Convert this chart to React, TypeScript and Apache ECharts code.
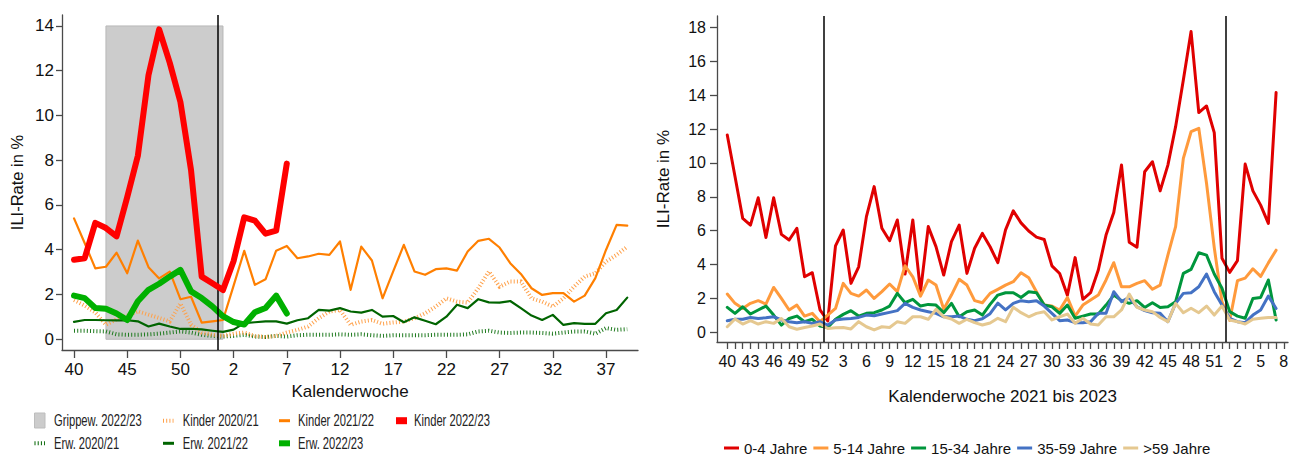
import React, { useEffect, useRef } from "react";
import * as echarts from "echarts";

// ---------- Left chart data (season weeks 40..53, 1..39) ----------
const leftWeeks = [40, 41, 42, 43, 44, 45, 46, 47, 48, 49, 50, 51, 52, 53,
  1, 2, 3, 4, 5, 6, 7, 8, 9, 10, 11, 12, 13, 14, 15, 16, 17, 18, 19, 20,
  21, 22, 23, 24, 25, 26, 27, 28, 29, 30, 31, 32, 33, 34, 35, 36, 37, 38, 39];

const kinder2021 = [1.75, 1.5, 1.2, 0.65, 0.9, 1.05, 1.25, 1.1, 0.95, 0.8,
  1.6, 0.65, 0.3, 0.2, 0.15, 0.25, 0.3, 0.15, 0.1, 0.15,
  0.3, 0.42, 0.57, 0.94, 1.24, 1.31, 0.64, 0.79, 0.86, 0.69,
  0.75, 0.79, 0.94, 1.16, 1.46, 1.83, 1.68, 1.64, 2.28, 3.03,
  2.35, 2.58, 2.58, 1.83, 1.68, 1.46, 1.83, 2.35, 2.8, 2.95,
  3.47, 3.77, 4.14];
const erw2021 = [0.38, 0.38, 0.36, 0.35, 0.22, 0.2, 0.2, 0.22, 0.25, 0.3,
  0.35, 0.3, 0.2, 0.15, 0.12, 0.15, 0.2, 0.12, 0.1, 0.15,
  0.12, 0.18, 0.2, 0.2, 0.2, 0.22, 0.2, 0.22, 0.18, 0.15,
  0.18, 0.18, 0.18, 0.18, 0.2, 0.2, 0.2, 0.22, 0.35, 0.38,
  0.3, 0.28, 0.3, 0.3, 0.28, 0.25, 0.3, 0.35, 0.35, 0.25,
  0.5, 0.42, 0.45];
const kinder2122 = [5.4, 4.3, 3.17, 3.24, 3.87, 2.95, 4.41, 3.22, 2.72, 3.02,
  1.79, 1.9, 0.74, 0.8, 0.86, 2.4, 3.95, 2.43, 2.68, 3.96,
  4.17, 3.62, 3.7, 3.82, 3.77, 4.37, 2.21, 4.14, 3.52, 1.83,
  3.03, 4.22, 3.03, 2.88, 3.13, 3.17, 3.07, 3.92, 4.4, 4.49,
  4.1, 3.4, 2.92, 2.28, 1.98, 2.06, 2.06, 1.68, 1.95, 2.73,
  3.99, 5.11, 5.08];
const erw2122 = [0.78, 0.86, 0.86, 0.85, 0.84, 0.85, 0.8, 0.57, 0.7, 0.57,
  0.46, 0.47, 0.44, 0.38, 0.33, 0.43, 0.72, 0.76, 0.8, 0.8,
  0.7, 0.85, 0.94, 1.31, 1.28, 1.39, 1.24, 1.19, 1.31, 1.01,
  1.04, 0.76, 0.98, 0.83, 0.67, 1.01, 1.54, 1.39, 1.79, 1.65,
  1.64, 1.71, 1.39, 1.06, 0.86, 1.09, 0.64, 0.72, 0.69, 0.69,
  1.16, 1.31, 1.86];
const kinder2223 = [3.55, 3.62, 5.2, 4.97, 4.6, 6.35, 8.2, 11.8, 13.85, 12.35,
  10.6, 7.55, 2.8, 2.5, 2.2, 3.5, 5.45, 5.3, 4.72, 4.85, 7.85];
const erw2223 = [1.95, 1.84, 1.4, 1.36, 1.15, 0.86, 1.7, 2.21, 2.48, 2.8,
  3.1, 2.14, 1.84, 1.47, 1.03, 0.77, 0.66, 1.21, 1.4, 1.95, 1.15];

const grippeStartWeek = 43;
const grippeEndWeek = 1;
const grippeTop = 14;
const leftYTicks = [0, 2, 4, 6, 8, 10, 12, 14];

// ---------- Right chart data (week 40/2021 .. week 8/2023) ----------
const rightWeeks = [40, 41, 42, 43, 44, 45, 46, 47, 48, 49, 50, 51, 52,
  1, 2, 3, 4, 5, 6, 7, 8, 9, 10, 11, 12, 13, 14, 15, 16, 17, 18, 19, 20,
  21, 22, 23, 24, 25, 26, 27, 28, 29, 30, 31, 32, 33, 34, 35, 36, 37, 38, 39, 40,
  41, 42, 43, 44, 45, 46, 47, 48, 49, 50, 51, 52,
  1, 2, 3, 4, 5, 6, 7, 8];

const age0_4 = [11.65, 9.2, 6.72, 6.33, 7.94, 5.6, 7.94, 5.78, 5.45, 6.14,
  3.28, 3.52, 1.32, 0.67, 5.1, 6.04, 2.89, 3.87, 6.83, 8.6,
  6.14, 5.41, 6.63, 3.44, 6.63, 2.4, 6.24, 5.06, 3.38, 5.35,
  6.33, 3.48, 4.96, 5.84, 5.05, 4.11, 6.05, 7.17, 6.46, 5.98,
  5.62, 5.48, 3.92, 3.47, 2.19, 4.41, 1.95, 2.34, 3.68, 5.74,
  7.07, 9.88, 5.32, 5.02, 9.48, 10.07, 8.35, 9.87, 12.14, 14.89,
  17.75, 12.97, 13.36, 11.79, 4.37, 3.54, 4.23, 9.93, 8.35, 7.51,
  6.43, 14.15];
const age5_14 = [2.26, 1.71, 1.41, 1.71, 1.87, 1.67, 2.65, 2.0, 1.32, 1.61,
  0.96, 1.12, 0.63, 1.02, 1.41, 2.89, 2.3, 2.14, 2.5, 2.0,
  2.4, 2.85, 2.4, 3.93, 3.28, 2.14, 3.09, 2.79, 1.37, 2.2,
  3.13, 2.79, 1.87, 1.75, 2.3, 2.54, 2.79, 2.99, 3.52, 3.22,
  2.4, 1.61, 1.55, 1.32, 2.06, 0.96, 1.61, 1.91, 2.2, 3.09,
  4.11, 2.69, 2.69, 2.89, 3.05, 2.54, 2.79, 4.56, 6.24, 10.27,
  11.84, 12.04, 8.8, 5.0, 1.8, 0.7, 3.05, 3.2, 3.75, 3.3,
  4.1, 4.85];
const age15_34 = [1.47, 1.12, 1.51, 1.08, 1.32, 1.55, 1.02, 0.43, 0.82, 0.96,
  0.63, 0.77, 0.37, 0.29, 0.77, 1.06, 1.28, 0.96, 1.12, 1.16,
  1.32, 1.55, 2.3, 1.75, 1.95, 1.55, 1.65, 1.61, 1.16, 1.71,
  0.92, 1.22, 1.32, 1.02, 1.65, 2.2, 2.34, 2.34, 2.06, 2.4,
  2.34, 1.61, 1.51, 1.12, 1.61, 0.83, 0.96, 1.08, 1.08, 1.61,
  2.2, 1.87, 1.71, 1.87, 1.47, 1.75, 1.47, 1.51, 1.81, 3.48,
  3.72, 4.7, 4.56, 3.44, 2.6, 1.22, 0.96, 0.83, 2.0, 2.06,
  3.09, 0.73];
const age35_59 = [0.69, 0.77, 0.77, 0.88, 0.82, 0.86, 0.92, 0.73, 0.63, 0.57,
  0.63, 0.53, 0.63, 0.43, 0.73, 0.79, 0.82, 0.88, 1.02, 0.98,
  1.08, 1.18, 1.28, 1.71, 1.47, 1.32, 1.22, 1.12, 0.92, 0.92,
  0.96, 0.77, 0.69, 0.8, 1.1, 1.72, 1.32, 1.71, 1.87, 1.81,
  1.87, 1.55, 1.12, 0.69, 0.73, 0.57, 0.57, 0.63, 1.12, 1.12,
  2.4, 1.81, 2.06, 1.51, 1.28, 1.16, 1.12, 0.63, 1.71, 2.3,
  2.34, 2.69, 3.44, 2.4, 1.61, 0.83, 0.63, 0.57, 1.02, 1.32,
  2.14, 1.41];
const age59plus = [0.33, 0.79, 0.49, 0.69, 0.49, 0.63, 0.53, 0.82, 0.33, 0.18,
  0.29, 0.37, 0.49, 0.23, 0.27, 0.29, 0.2, 0.63, 0.33, 0.14,
  0.33, 0.29, 0.63, 0.53, 0.92, 0.92, 0.77, 1.36, 0.92, 0.79,
  0.53, 0.77, 0.57, 0.43, 0.55, 0.83, 0.63, 1.48, 1.16, 0.92,
  1.12, 1.22, 0.73, 0.92, 1.08, 0.53, 0.83, 0.49, 0.43, 0.92,
  0.92, 1.32, 2.26, 1.48, 1.32, 1.22, 0.88, 0.63, 1.71, 1.16,
  1.42, 1.16, 1.55, 1.02, 1.55, 0.73, 0.63, 0.49, 0.77, 0.83,
  0.88, 0.87];
const rightYTicks = [0, 2, 4, 6, 8, 10, 12, 14, 16, 18];

const FONT = "'Liberation Sans', Arial, sans-serif";
const AXIS = { color: "#4a4a4a", width: 1.3 };
const TXT = "#111111";

const C = {
  grippe: "#cccccc",
  kinder2021: "#ffa14a",
  erw2021: "#1f7a1f",
  kinder2122: "#ff7f00",
  erw2122: "#006400",
  kinder2223: "#ff0000",
  erw2223: "#00b000",
};

const pairs = (vals: number[]) => vals.map((v, i) => [i, v]);

export default function App() {
  const ref = useRef<HTMLDivElement>(null);

  useEffect(() => {
    document.body.style.margin = "0";
    if (!ref.current) return;
    const chart = echarts.init(ref.current, null, { renderer: "svg" });

    const leftTickIdx = leftWeeks.map((_, i) => i).filter((i) => i % 5 === 0);
    const rightTickIdx = rightWeeks.map((_, i) => i).filter((i) => i % 3 === 0);
    const rightMinorIdx = rightWeeks.map((_, i) => i);
    const leftBreak = leftWeeks.indexOf(1) - 0.5;
    const rightBreak1 = rightWeeks.indexOf(1) - 0.5;
    const rightBreak2 = rightWeeks.lastIndexOf(1) - 0.5;

    const lineS = (name: string, data: number[], color: string, width: number, xi: number, z: number, extra: any = {}) => ({
      name,
      type: "line",
      xAxisIndex: xi,
      yAxisIndex: xi,
      data: pairs(data),
      showSymbol: false,
      symbol: "none",
      color,
      z,
      lineStyle: { color, width, join: "round", cap: "round", ...extra },
      emphasis: { disabled: true },
    });

    const dotted = { type: [1, 2.2], cap: "butt", join: "miter" };

    // Left legend drawn as graphic elements (two rows)
    const legText = (text: string, x: number, y: number) => ({
      type: "text",
      x,
      y,
      scaleX: 0.7,
      silent: true,
      style: {
        text,
        fontFamily: FONT,
        fontSize: 16,
        fill: "#222222",
        textVerticalAlign: "middle",
        verticalAlign: "middle",
        align: "left",
      },
    });
    const r1 = 420.7;
    const r2 = 443.3;
    const leftLegend = [
      { type: "rect", silent: true, shape: { x: 34.5, y: 413, width: 10.5, height: 15 }, style: { fill: C.grippe, stroke: "#bdbdbd", lineWidth: 1 } },
      legText("Grippew. 2022/23", 54, r1),
      { type: "line", silent: true, shape: { x1: 163, y1: r1, x2: 173.5, y2: r1 }, style: { stroke: C.kinder2021, lineWidth: 4, lineDash: [1, 2.2] } },
      legText("Kinder 2020/21", 182.7, r1),
      { type: "rect", silent: true, shape: { x: 279, y: r1 - 1.5, width: 11, height: 3 }, style: { fill: C.kinder2122 } },
      legText("Kinder 2021/22", 298, r1),
      { type: "rect", silent: true, shape: { x: 396, y: r1 - 3.5, width: 11, height: 7 }, style: { fill: C.kinder2223 } },
      legText("Kinder 2022/23", 414, r1),
      { type: "line", silent: true, shape: { x1: 34.5, y1: r2, x2: 45, y2: r2 }, style: { stroke: C.erw2122, lineWidth: 4, lineDash: [1, 2.2] } },
      legText("Erw. 2020/21", 54, r2),
      { type: "rect", silent: true, shape: { x: 163, y: r2 - 1.5, width: 11, height: 3 }, style: { fill: C.erw2122 } },
      legText("Erw. 2021/22", 182.7, r2),
      { type: "rect", silent: true, shape: { x: 279, y: r2 - 3, width: 11, height: 6 }, style: { fill: C.erw2223 } },
      legText("Erw. 2022/23", 298, r2),
    ];

    const option: any = {
      animation: false,
      backgroundColor: "#ffffff",
      grid: [
        { left: 62, top: 15, width: 576, height: 335 },
        { left: 717, top: 16, width: 571, height: 326 },
      ],
      graphic: leftLegend,
      xAxis: [
        {
          type: "value",
          gridIndex: 0,
          min: -1.13,
          max: 53.01,
          axisLine: { show: true, onZero: false, lineStyle: AXIS },
          axisTick: { show: true, length: 8, customValues: leftTickIdx, lineStyle: AXIS },
          axisLabel: {
            customValues: leftTickIdx,
            formatter: (v: number) => String(leftWeeks[Math.round(v)]),
            margin: 11,
            fontSize: 17,
            color: TXT,
            fontFamily: FONT,
          },
          splitLine: { show: false },
          name: "Kalenderwoche",
          nameLocation: "middle",
          nameGap: 28,
          nameTextStyle: { fontSize: 17, color: TXT, fontFamily: FONT },
        },
        {
          type: "value",
          gridIndex: 1,
          min: -1.33,
          max: 72.54,
          axisLine: { show: true, onZero: false, lineStyle: AXIS },
          axisTick: { show: true, length: 7, customValues: rightMinorIdx, lineStyle: AXIS },
          axisLabel: {
            customValues: rightTickIdx,
            formatter: (v: number) => String(rightWeeks[Math.round(v)]),
            margin: 11,
            fontSize: 16,
            color: TXT,
            fontFamily: FONT,
          },
          splitLine: { show: false },
          name: "Kalenderwoche 2021 bis 2023",
          nameLocation: "middle",
          nameGap: 46,
          nameTextStyle: { fontSize: 17, color: TXT, fontFamily: FONT },
        },
      ],
      yAxis: [
        {
          type: "value",
          gridIndex: 0,
          min: -0.48,
          max: 14.49,
          axisLine: { show: true, onZero: false, lineStyle: AXIS },
          axisTick: { show: true, length: 6, customValues: leftYTicks, lineStyle: AXIS },
          axisLabel: { customValues: leftYTicks, margin: 8, fontSize: 17, color: TXT, fontFamily: FONT },
          splitLine: { show: false },
          name: "ILI-Rate in %",
          nameLocation: "middle",
          nameGap: 37,
          nameTextStyle: { fontSize: 16.5, color: TXT, fontFamily: FONT },
        },
        {
          type: "value",
          gridIndex: 1,
          min: -0.57,
          max: 18.67,
          axisLine: { show: true, onZero: false, lineStyle: AXIS },
          axisTick: { show: true, length: 7, customValues: rightYTicks, lineStyle: AXIS },
          axisLabel: { customValues: rightYTicks, margin: 11, fontSize: 16, color: TXT, fontFamily: FONT },
          splitLine: { show: false },
          name: "ILI-Rate in %",
          nameLocation: "middle",
          nameGap: 45,
          nameTextStyle: { fontSize: 17, color: TXT, fontFamily: FONT },
        },
      ],
      legend: [
        {
          show: true,
          orient: "horizontal",
          left: 724,
          top: 439,
          padding: 0,
          itemGap: 6,
          itemWidth: 15,
          itemHeight: 3,
          icon: "rect",
          selectedMode: false,
          data: ["0-4 Jahre", "5-14 Jahre", "15-34 Jahre", "35-59 Jahre", ">59 Jahre"],
          textStyle: { fontFamily: FONT, fontSize: 15, color: "#111", lineHeight: 18 },
        },
      ],
      series: [
        {
          name: "Grippew. 2022/23",
          type: "line",
          xAxisIndex: 0,
          yAxisIndex: 0,
          data: [],
          color: C.grippe,
          z: 1,
          silent: true,
          markArea: {
            silent: true,
            itemStyle: { color: C.grippe, borderColor: "#b8b8b8", borderWidth: 1 },
            data: [[
              { xAxis: leftWeeks.indexOf(grippeStartWeek), yAxis: 0 },
              { xAxis: leftWeeks.indexOf(grippeEndWeek), yAxis: grippeTop },
            ]],
          },
        },
        lineS("Erw. 2020/21", erw2021, C.erw2021, 4, 0, 2, dotted),
        lineS("Kinder 2020/21", kinder2021, C.kinder2021, 4, 0, 2, dotted),
        lineS("Erw. 2021/22", erw2122, C.erw2122, 2.2, 0, 3),
        lineS("Kinder 2021/22", kinder2122, C.kinder2122, 2.2, 0, 3),
        lineS("Erw. 2022/23", erw2223, C.erw2223, 6, 0, 4),
        lineS("Kinder 2022/23", kinder2223, C.kinder2223, 6, 0, 5),
        {
          name: "breakLeft",
          type: "line",
          xAxisIndex: 0,
          yAxisIndex: 0,
          data: [],
          z: 6,
          silent: true,
          markLine: {
            silent: true,
            symbol: "none",
            label: { show: false },
            lineStyle: { color: "#000", width: 1.5, type: "solid" },
            data: [{ xAxis: leftBreak }],
          },
        },
        lineS("0-4 Jahre", age0_4, "#e00000", 3, 1, 3),
        lineS("5-14 Jahre", age5_14, "#ff9a3c", 3, 1, 3),
        lineS("15-34 Jahre", age15_34, "#00963c", 3, 1, 3),
        lineS("35-59 Jahre", age35_59, "#4472c4", 3, 1, 3),
        lineS(">59 Jahre", age59plus, "#e5c890", 3, 1, 3),
        {
          name: "breakRight",
          type: "line",
          xAxisIndex: 1,
          yAxisIndex: 1,
          data: [],
          z: 6,
          silent: true,
          markLine: {
            silent: true,
            symbol: "none",
            label: { show: false },
            lineStyle: { color: "#000", width: 1.5, type: "solid" },
            data: [{ xAxis: rightBreak1 }, { xAxis: rightBreak2 }],
          },
        },
      ],
    };

    chart.setOption(option);
    return () => chart.dispose();
  }, []);

  return <div ref={ref} style={{ width: 1295, height: 455 }} />;
}
